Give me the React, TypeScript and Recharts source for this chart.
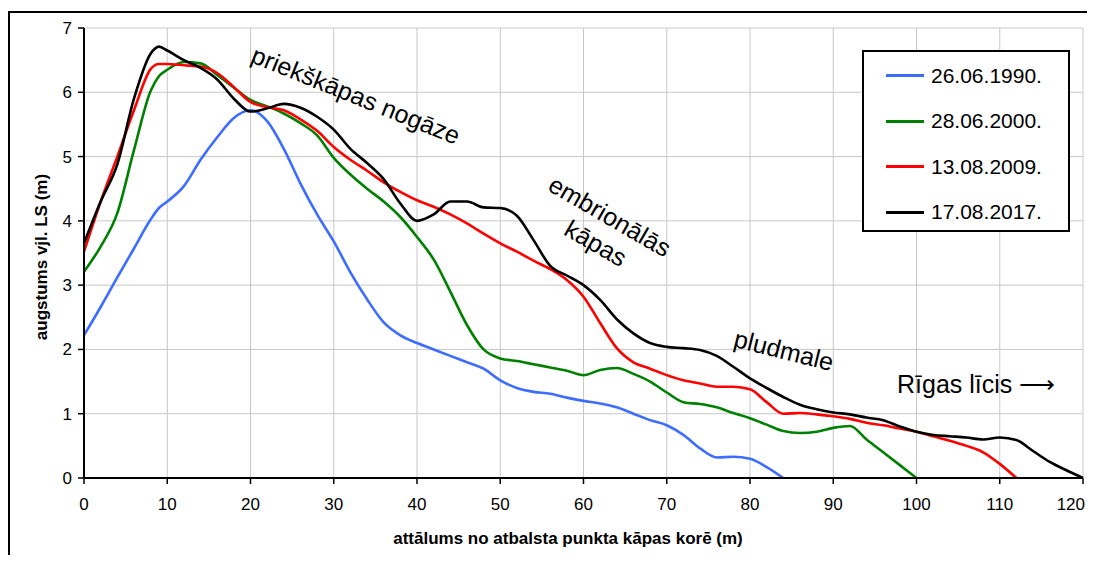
import React from 'react';
import { LineChart, Line, XAxis, YAxis, CartesianGrid, Legend } from 'recharts';

// distance from the support point on the dune crest (m)
const distance = [0, 2, 4, 6, 8, 9, 10, 12, 14, 16, 18, 20, 22, 24, 26, 28, 30, 32, 34, 36, 38, 40, 42, 44, 46, 48, 50, 52, 54, 56, 58, 60, 62, 64, 66, 68, 70, 72, 74, 76, 78, 80, 82, 84, 86, 88, 90, 92, 94, 96, 98, 100, 102, 104, 106, 108, 110, 112, 114, 116, 118, 120];

const s1990 = [2.22, 2.66, 3.12, 3.57, 4.02, 4.2, 4.3, 4.54, 4.95, 5.3, 5.6, 5.72, 5.55, 5.12, 4.58, 4.1, 3.68, 3.2, 2.78, 2.42, 2.22, 2.1, 2.0, 1.9, 1.8, 1.7, 1.52, 1.4, 1.34, 1.31, 1.25, 1.2, 1.16, 1.1, 1.0, 0.9, 0.82, 0.67, 0.46, 0.32, 0.33, 0.3, 0.17, 0, null, null, null, null, null, null, null, null, null, null, null, null, null, null, null, null, null, null];
const s2000 = [3.21, 3.6, 4.12, 5.1, 6.02, 6.25, 6.35, 6.47, 6.45, 6.27, 6.07, 5.88, 5.78, 5.67, 5.52, 5.33, 4.98, 4.72, 4.5, 4.3, 4.06, 3.75, 3.4, 2.9, 2.38, 2.0, 1.86, 1.82, 1.77, 1.72, 1.67, 1.6, 1.68, 1.71, 1.62, 1.5, 1.33, 1.18, 1.15, 1.1, 1.01, 0.93, 0.83, 0.73, 0.7, 0.72, 0.78, 0.81, 0.6, 0.4, 0.2, 0, null, null, null, null, null, null, null, null, null, null];
const s2009 = [3.52, 4.3, 5.0, 5.72, 6.36, 6.44, 6.44, 6.42, 6.4, 6.3, 6.08, 5.85, 5.77, 5.72, 5.58, 5.4, 5.15, 4.95, 4.78, 4.6, 4.45, 4.32, 4.22, 4.1, 3.96, 3.8, 3.65, 3.52, 3.38, 3.25, 3.08, 2.82, 2.41, 2.02, 1.8, 1.7, 1.6, 1.52, 1.47, 1.42, 1.42, 1.38, 1.18, 1.0, 1.01, 0.99, 0.96, 0.92, 0.86, 0.82, 0.77, 0.72, 0.65, 0.58, 0.5, 0.4, 0.22, 0, null, null, null, null];
const s2017 = [3.65, 4.3, 4.88, 5.9, 6.6, 6.71, 6.65, 6.5, 6.38, 6.2, 5.9, 5.7, 5.75, 5.82, 5.76, 5.62, 5.42, 5.12, 4.9, 4.65, 4.27, 4.0, 4.1, 4.3, 4.3, 4.21, 4.2, 4.08, 3.7, 3.3, 3.15, 3.0, 2.77, 2.47, 2.25, 2.1, 2.04, 2.02, 1.99, 1.9, 1.73, 1.55, 1.4, 1.26, 1.14, 1.07, 1.02, 0.99, 0.94, 0.9, 0.8, 0.72, 0.67, 0.65, 0.63, 0.6, 0.63, 0.59, 0.42, 0.25, 0.12, 0];

const seriesNames = ['26.06.1990.', '28.06.2000.', '13.08.2009.', '17.08.2017.'];
const seriesColors = ['#3d6dff', '#008000', '#ff0000', '#000000'];

const xTicks = [0, 10, 20, 30, 40, 50, 60, 70, 80, 90, 100, 110, 120];
const yTicks = [0, 1, 2, 3, 4, 5, 6, 7];

const xTitle = 'attālums no atbalsta punkta kāpas korē (m)';
const yTitle = 'augstums vjl. LS (m)';

const data = distance.map((d, i) => ({
  d,
  a: s1990[i],
  b: s2000[i],
  c: s2009[i],
  e: s2017[i],
}));
const keys = ['a', 'b', 'c', 'e'];

const FONT = '"Liberation Sans", Arial, Helvetica, sans-serif';

const renderLegend = (props: any) => {
  const payload = [...(props.payload || [])].sort(
    (p: any, q: any) => seriesNames.indexOf(p.value) - seriesNames.indexOf(q.value)
  );
  return (
    <div
      style={{
        boxSizing: 'border-box',
        width: 208,
        height: 182,
        border: '2px solid #000',
        background: '#fff',
        paddingTop: 1,
        fontFamily: FONT,
      }}
    >
      {payload.map((p: any, i: number) => (
        <div key={i} style={{ height: 45.5, display: 'flex', alignItems: 'center' }}>
          <div style={{ marginLeft: 22, width: 38, height: 3, background: p.color }} />
          <span style={{ marginLeft: 7, fontSize: 21, color: '#000' }}>{p.value}</span>
        </div>
      ))}
    </div>
  );
};

const XTick = (props: any) => {
  const { x, y, payload } = props;
  const last = payload.value === xTicks[xTicks.length - 1];
  return (
    <text
      x={last ? x + 2 : x}
      y={y}
      dy="0.71em"
      textAnchor={last ? 'end' : 'middle'}
      fill="#000"
      fontSize={17}
      fontFamily={FONT}
    >
      {payload.value}
    </text>
  );
};

export default function App() {
  const W = 1087;
  const H = 547;
  return (
    <div style={{ position: 'relative', width: W, height: H, overflow: 'hidden', background: '#fff' }}>
      <div
        style={{
          position: 'absolute',
          left: 0,
          top: 3,
          right: -10,
          bottom: -10,
          borderLeft: '2px solid #000',
          borderTop: '2px solid #000',
        }}
      />
      <LineChart
        width={W}
        height={H}
        data={data}
        margin={{ top: 20, right: 12, bottom: 47, left: 36 }}
        style={{ fontFamily: FONT }}
      >
        <CartesianGrid stroke="#c8c8c8" strokeWidth={1} />
        <XAxis
          dataKey="d"
          type="number"
          domain={[0, 120]}
          ticks={xTicks}
          interval={0}
          height={30}
          axisLine={{ stroke: '#000', strokeWidth: 2 }}
          tickLine={{ stroke: '#000', strokeWidth: 1.5 }}
          tickSize={6}
          tickMargin={14}
          tick={<XTick />}
        />
        <YAxis
          type="number"
          domain={[0, 7]}
          ticks={yTicks}
          interval={0}
          width={40}
          axisLine={{ stroke: '#000', strokeWidth: 2 }}
          tickLine={{ stroke: '#000', strokeWidth: 1.5 }}
          tickSize={6}
          tickMargin={6}
          tick={{ fill: '#000', fontSize: 17, fontFamily: FONT }}
        />
        <Legend
          layout="vertical"
          align="center"
          verticalAlign="middle"
          itemSorter={null as any}
          content={renderLegend}
          wrapperStyle={{ left: 854, top: 42, width: 208, height: 182 }}
        />
        {keys.map((k, i) => (
          <Line
            key={k}
            dataKey={k}
            name={seriesNames[i]}
            type="monotone"
            stroke={seriesColors[i]}
            strokeWidth={2.6}
            dot={false}
            activeDot={false}
            isAnimationActive={false}
            connectNulls={false}
          />
        ))}
      </LineChart>
      <svg
        width={W}
        height={H}
        style={{ position: 'absolute', left: 0, top: 0, pointerEvents: 'none' }}
        fontFamily={FONT}
      >
        <text x={348} y={87} fontSize={25} textAnchor="middle" dominantBaseline="central" transform="rotate(22 348 87)">
          priekškāpas nogāze
        </text>
        <text x={602} y={208} fontSize={25} textAnchor="middle" dominantBaseline="central" transform="rotate(30 602 208)">
          embrionālās
        </text>
        <text x={588} y={235} fontSize={25} textAnchor="middle" dominantBaseline="central" transform="rotate(30 588 235)">
          kāpas
        </text>
        <text x={776} y={342} fontSize={25} textAnchor="middle" dominantBaseline="central" transform="rotate(14 776 342)">
          pludmale
        </text>
        <text x={889} y={385} fontSize={25} textAnchor="start">
          Rīgas līcis ⟶
        </text>
        <text x={560} y={530} fontSize={17} fontWeight="bold" textAnchor="middle" dominantBaseline="central">
          {xTitle}
        </text>
        <text x={33} y={249} fontSize={17} fontWeight="bold" textAnchor="middle" dominantBaseline="central" transform="rotate(-90 33 249)">
          {yTitle}
        </text>
      </svg>
    </div>
  );
}
